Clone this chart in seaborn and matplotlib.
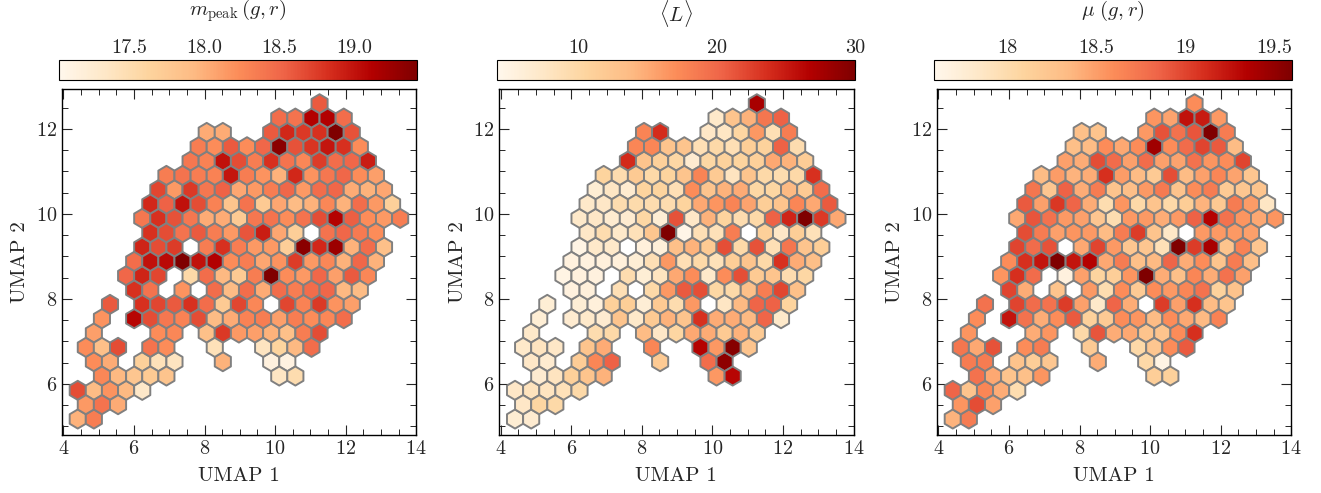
# UMAP maps of the light curve features, hexbin panels
import numpy as np
import matplotlib
matplotlib.use("Agg")
import matplotlib.pyplot as plt
import seaborn as sns
from matplotlib.ticker import MultipleLocator, FixedLocator, FixedFormatter

# ------------------- Data -------------------
# occupied hexagon columns in each row of the map, bottom row first
row_cols = [
    [0, 1],
    [0, 1, 2],
    [0, 1, 2, 3, 4],
    [1, 2, 3, 4, 5, 12, 13],
    [1, 2, 4, 5, 6, 9, 12, 13],
    [0, 1, 2, 4, 5, 8, 11, 12, 13, 14],
    [1, 5, 6, 8, 9, 10, 11, 12, 13, 14, 15],
    [1, 3, 4, 5, 6, 7, 8, 9, 10, 11, 12, 13, 14, 15, 16],
    [2, 4, 5, 6, 7, 8, 9, 10, 11, 13, 14, 15, 16, 17],
    [3, 4, 6, 8, 9, 10, 11, 12, 13, 14, 15, 16, 17],
    [3, 4, 5, 7, 8, 9, 10, 11, 12, 13, 14, 15, 16, 17, 18],
    [3, 4, 5, 6, 7, 8, 9, 10, 11, 12, 13, 14, 15, 16, 17, 18],
    [4, 5, 6, 8, 9, 10, 11, 12, 13, 14, 15, 16, 17, 18, 19],
    [4, 5, 6, 7, 8, 9, 10, 11, 12, 13, 15, 16, 17, 18],
    [4, 5, 6, 7, 8, 9, 10, 11, 12, 13, 14, 15, 16, 17, 18, 19, 20],
    [4, 5, 6, 7, 8, 9, 10, 11, 12, 13, 14, 15, 16, 17, 18, 19],
    [5, 6, 7, 8, 9, 10, 11, 12, 13, 14, 15, 16, 17, 18, 19],
    [5, 6, 7, 8, 9, 10, 11, 12, 13, 14, 15, 16, 17, 18],
    [7, 8, 9, 10, 11, 12, 13, 14, 15, 16, 17, 18],
    [7, 8, 9, 10, 11, 12, 13, 14, 15, 16, 17],
    [8, 9, 12, 13, 14, 15, 16, 17],
    [12, 13, 14, 15, 16],
    [15],
]

m_peak = [
    [17.99, 18.34],
    [18.15, 18.42, 18.03],
    [18.66, 17.91, 18.18, 17.94, 17.32],
    [18.27, 17.94, 17.79, 17.75, 17.82, 17.36, 17.51],
    [18.23, 18.03, 17.68, 17.44, 17.39, 17.99, 17.15, 17.13],
    [18.23, 17.87, 18.66, 18.42, 18.23, 17.44, 17.39, 17.63, 17.94, 18.46],
    [18.11, 18.23, 18.27, 17.87, 18.77, 18.15, 18.11, 17.99, 17.87, 18.34, 18.66],
    [18.18, 19.09, 18.66, 18.39, 18.30, 18.66, 17.91, 18.03, 18.30, 18.34, 18.11, 18.34, 18.23, 18.27, 18.46],
    [18.58, 18.82, 18.70, 18.58, 18.82, 18.46, 17.75, 18.70, 18.27, 18.70, 18.30, 18.77, 18.18, 18.11],
    [18.82, 18.42, 18.18, 18.46, 17.91, 18.46, 18.03, 18.46, 18.34, 18.46, 18.51, 17.94, 17.91],
    [18.51, 18.89, 18.70, 17.56, 18.46, 17.94, 17.75, 18.34, 19.42, 18.23, 18.15, 18.51, 18.11, 18.58, 18.27],
    [18.46, 19.01, 19.06, 19.42, 19.01, 19.13, 18.23, 18.34, 18.06, 18.18, 18.75, 18.15, 18.27, 17.99, 18.51, 17.99],
    [18.89, 18.66, 18.75, 18.34, 18.82, 18.34, 18.15, 18.15, 17.70, 19.35, 18.87, 19.25, 17.99, 18.46, 17.87],
    [18.82, 18.66, 18.42, 18.58, 18.34, 18.15, 18.61, 18.94, 18.06, 17.70, 18.42, 18.51, 18.37, 18.23],
    [18.39, 18.82, 18.63, 18.39, 18.03, 18.03, 17.75, 18.39, 18.42, 18.23, 18.42, 18.66, 19.11, 18.56, 18.23, 18.15, 18.34],
    [18.87, 18.54, 19.01, 18.66, 18.30, 17.82, 18.42, 17.75, 18.06, 17.91, 17.99, 18.27, 17.99, 18.46, 18.15, 17.68],
    [18.70, 18.15, 18.77, 18.39, 18.54, 18.06, 18.15, 18.34, 18.51, 18.15, 18.46, 18.51, 18.03, 17.99, 18.06],
    [18.34, 18.42, 18.34, 18.30, 18.99, 18.34, 18.18, 17.99, 18.87, 18.18, 18.39, 18.51, 18.23, 18.11],
    [18.39, 18.30, 19.01, 18.66, 18.34, 18.82, 18.42, 18.27, 18.75, 18.46, 18.51, 18.94],
    [18.34, 18.23, 18.58, 18.23, 18.51, 19.35, 18.63, 18.80, 18.99, 18.82, 18.23],
    [18.03, 18.03, 18.58, 18.87, 18.77, 18.82, 19.42, 18.63],
    [18.46, 18.42, 19.13, 19.13, 18.46],
    [18.58],
]

mean_l = [
    [6.4, 6.7],
    [7.5, 10.3, 9.8],
    [7.5, 8.2, 8.0, 8.5, 9.8],
    [6.7, 8.0, 11.1, 12.6, 14.5, 16.3, 26.4],
    [7.5, 6.7, 11.6, 17.6, 20.4, 11.9, 19.6, 29.0],
    [7.2, 8.0, 7.5, 12.6, 15.0, 17.6, 26.6, 16.3, 29.5, 12.6],
    [7.2, 9.3, 9.8, 13.7, 7.5, 10.3, 15.2, 15.0, 11.9, 14.5, 11.9],
    [6.2, 6.7, 7.2, 6.7, 12.6, 7.2, 11.9, 14.5, 12.6, 23.5, 15.0, 15.0, 13.9, 20.2, 7.2],
    [6.2, 6.2, 5.7, 11.1, 11.4, 6.2, 11.9, 9.3, 16.3, 7.7, 13.9, 20.2, 20.4, 10.6],
    [5.4, 5.7, 8.8, 9.8, 16.3, 20.9, 21.7, 10.1, 9.8, 13.2, 18.3, 22.2, 13.2],
    [4.9, 5.4, 5.4, 9.3, 6.2, 8.0, 15.2, 17.1, 7.2, 17.1, 21.7, 11.9, 12.6, 9.3, 10.1],
    [5.4, 5.4, 5.7, 5.7, 6.2, 8.8, 16.3, 8.8, 9.8, 8.5, 11.4, 12.6, 9.8, 23.5, 15.0, 13.4],
    [4.9, 7.2, 7.2, 5.7, 5.9, 13.2, 14.5, 11.9, 21.7, 9.8, 21.5, 8.8, 18.9, 12.6, 11.4],
    [7.5, 9.3, 7.2, 8.5, 12.4, 30.0, 4.6, 8.8, 8.5, 18.3, 11.1, 7.5, 11.4, 8.5],
    [7.2, 7.5, 6.7, 6.7, 10.1, 6.2, 21.5, 7.5, 14.5, 10.6, 9.3, 9.8, 20.4, 24.3, 30.0, 23.0, 15.2],
    [7.2, 7.5, 9.3, 9.5, 9.3, 9.3, 10.6, 15.2, 16.5, 17.8, 15.5, 11.4, 12.6, 17.6, 15.2, 20.9],
    [6.4, 7.7, 6.7, 10.6, 10.6, 8.8, 17.1, 12.6, 14.5, 15.0, 10.1, 10.3, 13.9, 11.9, 19.6],
    [10.6, 9.3, 11.9, 9.8, 10.6, 12.6, 17.8, 11.9, 8.0, 12.6, 9.8, 9.3, 9.8, 23.5],
    [24.0, 12.6, 11.1, 10.1, 6.7, 10.1, 10.8, 10.6, 11.1, 15.2, 14.5, 11.6],
    [17.6, 17.6, 12.6, 12.6, 8.8, 9.8, 8.8, 11.4, 10.8, 20.4, 9.3],
    [17.8, 23.8, 7.5, 7.7, 10.3, 16.3, 8.8, 18.3],
    [7.2, 12.6, 14.5, 18.9, 20.4],
    [27.4],
]

mu = [
    [18.39, 18.70],
    [18.55, 18.96, 18.49],
    [18.84, 18.25, 18.64, 18.43, 17.99],
    [18.76, 18.45, 18.25, 18.29, 18.55, 18.15, 18.13],
    [18.70, 18.70, 18.27, 18.15, 18.23, 18.43, 18.03, 17.65],
    [18.74, 18.45, 18.94, 18.60, 18.70, 18.19, 18.03, 18.23, 18.60, 18.90],
    [18.55, 18.43, 18.55, 18.03, 18.92, 18.43, 18.45, 18.25, 18.25, 18.60, 19.10],
    [18.60, 19.24, 18.76, 18.43, 18.60, 18.90, 18.13, 18.19, 18.60, 18.55, 18.33, 18.60, 18.45, 18.35, 18.66],
    [18.76, 19.00, 18.80, 18.76, 19.04, 18.49, 17.83, 18.84, 18.43, 19.04, 18.49, 19.10, 18.33, 18.25],
    [19.00, 18.43, 18.25, 18.53, 17.99, 18.60, 18.19, 18.60, 18.53, 18.64, 18.76, 18.11, 18.27],
    [18.55, 19.10, 18.80, 17.69, 18.49, 18.09, 18.15, 18.55, 19.60, 18.43, 18.29, 18.64, 18.43, 18.76, 18.49],
    [18.60, 19.10, 19.24, 19.60, 19.24, 19.34, 18.45, 18.70, 18.29, 18.35, 18.84, 18.43, 18.60, 18.25, 18.70, 18.31],
    [19.00, 18.80, 18.94, 18.45, 19.00, 18.53, 18.23, 18.23, 17.95, 19.60, 19.04, 19.40, 18.25, 18.66, 18.23],
    [18.96, 18.70, 18.49, 18.55, 18.53, 18.33, 18.70, 19.04, 18.25, 17.85, 18.53, 18.53, 18.53, 18.49],
    [18.45, 18.92, 18.76, 18.53, 18.49, 18.23, 17.99, 18.53, 18.53, 18.43, 18.53, 18.86, 19.34, 18.76, 18.55, 18.45, 18.55],
    [18.90, 18.49, 19.06, 18.84, 18.43, 17.99, 18.55, 18.03, 18.25, 18.03, 18.17, 18.39, 18.21, 18.70, 18.51, 17.87],
    [18.74, 18.23, 18.86, 18.43, 18.70, 18.25, 18.31, 18.53, 18.72, 18.27, 18.60, 18.70, 18.19, 18.23, 18.25],
    [18.33, 18.51, 18.39, 18.43, 19.10, 18.51, 18.33, 18.19, 18.96, 18.33, 18.49, 18.64, 18.47, 18.23],
    [18.49, 18.43, 18.96, 18.80, 18.49, 18.80, 18.49, 18.47, 18.76, 18.55, 18.60, 19.00],
    [18.31, 18.33, 18.60, 18.45, 18.60, 19.44, 18.60, 18.80, 19.00, 18.90, 18.33],
    [18.29, 18.25, 18.53, 18.94, 18.76, 18.92, 19.60, 18.70],
    [18.55, 18.47, 19.26, 19.20, 18.53],
    [18.60],
]

panel_values = [m_peak, mean_l, mu]
panel_titles = [r"$m_{\rm peak}\,(g,r)$", r"$\langle L\rangle$", r"$\mu\ (g,r)$"]
panel_limits = [(17.03, 19.42), (4.1, 30.0), (17.59, 19.6)]
cbar_ticks = [[17.5, 18.0, 18.5, 19.0], [10, 20, 30], [18, 18.5, 19, 19.5]]
cbar_labels = [["17.5", "18.0", "18.5", "19.0"], ["10", "20", "30"], ["18", "18.5", "19", "19.5"]]
cbar_minor = [0.1, 2, 0.1]
title_pad = [16.5, 12, 16.5]

# hexagon grid of the map
x0, dx = 4.405, 0.457
y0, dy = 5.176, 0.674
nx, ny = 22, 12

# ------------------- Style -------------------
sns.set_theme(style="ticks", rc={
    "font.family": "serif",
    "font.serif": ["cmr10"],
    "mathtext.fontset": "cm",
    "axes.formatter.use_mathtext": True,
    "axes.unicode_minus": False,
    "axes.linewidth": 1.0,
    "axes.edgecolor": "black",
    "xtick.direction": "in",
    "ytick.direction": "in",
    "xtick.top": True,
    "ytick.right": True,
    "xtick.major.size": 7.5,
    "ytick.major.size": 7.5,
    "xtick.minor.size": 4,
    "ytick.minor.size": 4,
    "xtick.major.width": 0.8,
    "ytick.major.width": 0.8,
    "xtick.minor.width": 0.7,
    "ytick.minor.width": 0.7,
    "xtick.labelsize": 14.5,
    "ytick.labelsize": 14.5,
    "axes.labelsize": 15,
})
cmap = sns.color_palette("OrRd", as_cmap=True)

fig = plt.figure(figsize=(13.21, 4.93), dpi=100)
W, H = 1321, 493
panel_left = [61.7, 499, 936.7]
cbar_left = [59, 497, 934]

# ------------------- Panels -------------------
for i in range(3):
    xs, ys, cs = [], [], []
    for r, cols in enumerate(row_cols):
        for c, v in zip(cols, panel_values[i][r]):
            xs.append(x0 + (c + 0.5 * (r % 2)) * dx)
            ys.append(y0 + r * dy / 2)
            cs.append(v)

    ax = fig.add_axes([panel_left[i] / W, 1 - 435 / H, 354.5 / W, 345.7 / H])
    hb = ax.hexbin(xs, ys, C=cs, gridsize=(nx, ny), cmap=cmap,
                   extent=(x0, x0 + nx * dx, y0, y0 + ny * dy),
                   vmin=panel_limits[i][0], vmax=panel_limits[i][1],
                   edgecolors="gray", linewidths=1.4)
    ax.set_xlim(3.95, 14)
    ax.set_ylim(4.8, 12.93)
    ax.set_xticks([4, 6, 8, 10, 12, 14])
    ax.set_yticks([6, 8, 10, 12])
    ax.xaxis.set_minor_locator(MultipleLocator(0.5))
    ax.yaxis.set_minor_locator(MultipleLocator(0.5))
    ax.tick_params(which="both", top=True, right=True)
    ax.set_xlabel("UMAP 1", labelpad=6.5)
    ax.set_ylabel("UMAP 2", labelpad=4.5)

    cax = fig.add_axes([cbar_left[i] / W, 1 - 80 / H, 358 / W, 20 / H])
    cbar = fig.colorbar(hb, cax=cax, orientation="horizontal")
    cax.xaxis.set_ticks_position("top")
    cax.xaxis.set_label_position("top")
    cax.xaxis.set_major_locator(FixedLocator(cbar_ticks[i]))
    cax.xaxis.set_major_formatter(FixedFormatter(cbar_labels[i]))
    cax.xaxis.set_minor_locator(MultipleLocator(cbar_minor[i]))
    cax.tick_params(axis="x", which="major", direction="in", length=5, top=True, bottom=False, pad=2.5)
    cax.tick_params(axis="x", which="minor", direction="in", length=2.5, top=True, bottom=False)
    cbar.outline.set_linewidth(0.8)
    cax.set_xlabel(panel_titles[i], labelpad=title_pad[i])

fig.savefig("out.png", dpi=100)
